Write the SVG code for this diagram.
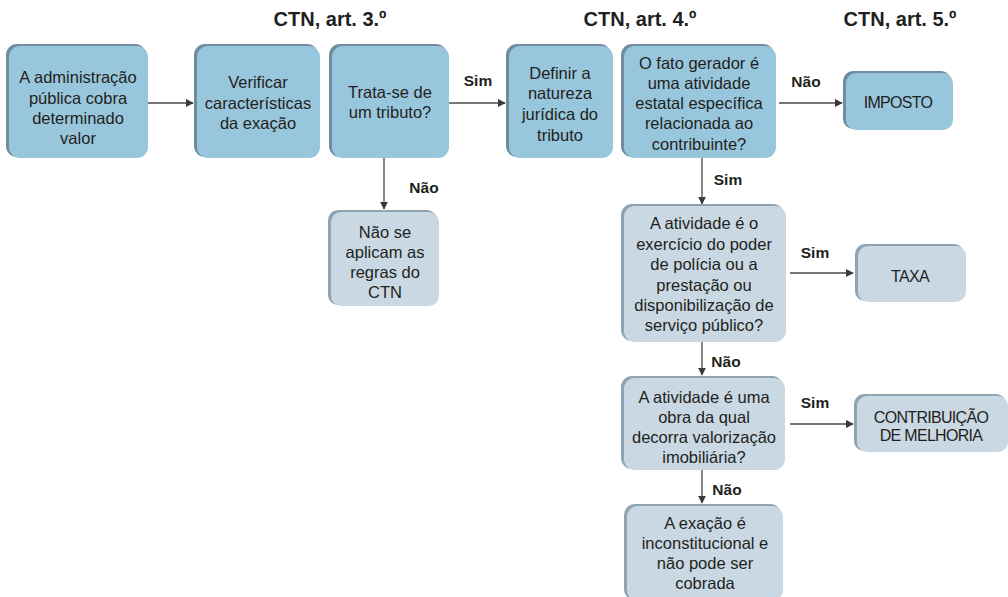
<svg xmlns="http://www.w3.org/2000/svg" width="1008" height="597" viewBox="0 0 1008 597">
<style>
.t{font-family:"Liberation Sans",Arial,sans-serif;font-size:16.5px;fill:#231F20;text-anchor:middle}
.s{font-family:"Liberation Sans",Arial,sans-serif;font-size:16px;fill:#231F20;text-anchor:middle;letter-spacing:-0.7px}
.h{font-family:"Liberation Sans",Arial,sans-serif;font-size:20px;font-weight:bold;fill:#231F20;text-anchor:middle}
.l{font-family:"Liberation Sans",Arial,sans-serif;font-size:15.5px;font-weight:bold;fill:#231F20;text-anchor:middle}
.bb{fill:#6F8D9E}
.bf{fill:#98C6DC}
.gb{fill:#8FA3B0}
.gf{fill:#C9D8E3}
.c{stroke:#4A4A4A;stroke-width:1.3;fill:none;marker-end:url(#a)}
</style>
<defs>
<marker id="a" viewBox="0 0 10 10" refX="9" refY="5" markerWidth="8" markerHeight="8" markerUnits="userSpaceOnUse" orient="auto">
<path d="M0,0 L10,5 L0,10 z" fill="#3A3A3A"/>
</marker>
</defs>
<text class="h" x="330" y="26">CTN, art. 3.º</text>
<text class="h" x="640" y="26">CTN, art. 4.º</text>
<text class="h" x="900" y="26">CTN, art. 5.º</text>

<g id="connectors">
<line class="c" x1="148" y1="103" x2="193" y2="103"/>
<line class="c" x1="449" y1="103" x2="505" y2="103"/>
<line class="c" x1="384" y1="158" x2="384" y2="209"/>
<line class="c" x1="779" y1="103" x2="842" y2="103"/>
<line class="c" x1="702" y1="158" x2="702" y2="204"/>
<line class="c" x1="790" y1="273" x2="853" y2="273"/>
<line class="c" x1="702" y1="342" x2="702" y2="375"/>
<line class="c" x1="790" y1="424" x2="853" y2="424"/>
<line class="c" x1="702" y1="470" x2="702" y2="503"/>
<text class="l" x="478" y="86">Sim</text>
<text class="l" x="424" y="193">Não</text>
<text class="l" x="806" y="87">Não</text>
<text class="l" x="728" y="185">Sim</text>
<text class="l" x="815" y="258">Sim</text>
<text class="l" x="726" y="367">Não</text>
<text class="l" x="815" y="408">Sim</text>
<text class="l" x="727" y="495">Não</text>
</g>

<g id="n1">
<rect class="bb" x="6" y="44" width="140" height="113" rx="11"/>
<rect class="bf" x="9" y="46" width="139" height="112" rx="11"/>
<text class="t" x="78" y="83">A administração</text>
<text class="t" x="78" y="104">pública cobra</text>
<text class="t" x="78" y="124">determinado</text>
<text class="t" x="78" y="144">valor</text>
</g>
<g id="n2">
<rect class="bb" x="194" y="44" width="124" height="113" rx="11"/>
<rect class="bf" x="197" y="46" width="123" height="112" rx="11"/>
<text class="t" x="258" y="88">Verificar</text>
<text class="t" x="258" y="109">características</text>
<text class="t" x="258" y="129">da exação</text>
</g>
<g id="n3">
<rect class="bb" x="329" y="44" width="118" height="113" rx="11"/>
<rect class="bf" x="332" y="46" width="117" height="112" rx="11"/>
<text class="t" x="390" y="98">Trata-se de</text>
<text class="t" x="390" y="118">um tributo?</text>
</g>
<g id="n4">
<rect class="bb" x="506" y="44" width="105" height="113" rx="11"/>
<rect class="bf" x="509" y="46" width="104" height="112" rx="11"/>
<text class="t" x="560" y="79">Definir a</text>
<text class="t" x="560" y="99">natureza</text>
<text class="t" x="560" y="120">jurídica do</text>
<text class="t" x="560" y="141">tributo</text>
</g>
<g id="n5">
<rect class="bb" x="621" y="44" width="153" height="113" rx="11"/>
<rect class="bf" x="624" y="46" width="152" height="112" rx="11"/>
<text class="t" x="699" y="69">O fato gerador é</text>
<text class="t" x="699" y="89">uma atividade</text>
<text class="t" x="699" y="109">estatal específica</text>
<text class="t" x="699" y="129">relacionada ao</text>
<text class="t" x="699" y="150">contribuinte?</text>
</g>
<g id="n6">
<rect class="bb" x="843" y="71" width="108" height="58" rx="10"/>
<rect class="bf" x="846" y="73" width="107" height="57" rx="10"/>
<text class="s" x="898" y="108">IMPOSTO</text>
</g>
<g id="n7">
<rect class="gb" x="328" y="210" width="109" height="95" rx="10"/>
<rect class="gf" x="331" y="212" width="108" height="94" rx="10"/>
<text class="t" x="385" y="238">Não se</text>
<text class="t" x="385" y="258">aplicam as</text>
<text class="t" x="385" y="278">regras do</text>
<text class="t" x="385" y="298">CTN</text>
</g>
<g id="n8">
<rect class="gb" x="621" y="204" width="163" height="137" rx="11"/>
<rect class="gf" x="624" y="206" width="162" height="136" rx="11"/>
<text class="t" x="704" y="229">A atividade é o</text>
<text class="t" x="704" y="250">exercício do poder</text>
<text class="t" x="704" y="270">de polícia ou a</text>
<text class="t" x="704" y="291">prestação ou</text>
<text class="t" x="704" y="311">disponibilização de</text>
<text class="t" x="704" y="331">serviço público?</text>
</g>
<g id="n9">
<rect class="gb" x="855" y="244" width="109" height="57" rx="10"/>
<rect class="gf" x="858" y="246" width="108" height="56" rx="10"/>
<text class="s" x="910" y="282">TAXA</text>
</g>
<g id="n10">
<rect class="gb" x="621" y="376" width="162" height="93" rx="11"/>
<rect class="gf" x="624" y="378" width="161" height="92" rx="11"/>
<text class="t" x="704" y="403">A atividade é uma</text>
<text class="t" x="704" y="423">obra da qual</text>
<text class="t" x="704" y="443">decorra valorização</text>
<text class="t" x="704" y="463">imobiliária?</text>
</g>
<g id="n11">
<rect class="gb" x="854" y="394" width="152" height="57" rx="10"/>
<rect class="gf" x="857" y="396" width="151" height="56" rx="10"/>
<text class="s" x="931" y="423">CONTRIBUIÇÃO</text>
<text class="s" x="931" y="441">DE MELHORIA</text>
</g>
<g id="n12">
<rect class="gb" x="624" y="504" width="157" height="96" rx="11"/>
<rect class="gf" x="627" y="506" width="156" height="95" rx="11"/>
<text class="t" x="705" y="529">A exação é</text>
<text class="t" x="705" y="549">inconstitucional e</text>
<text class="t" x="705" y="569">não pode ser</text>
<text class="t" x="705" y="589">cobrada</text>
</g>
</svg>
